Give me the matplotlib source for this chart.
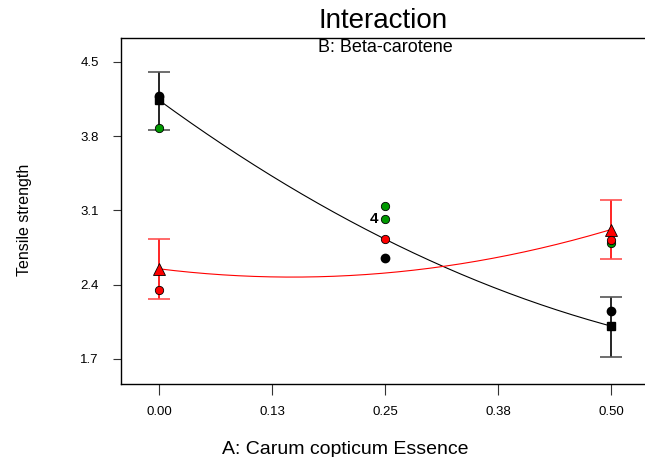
import matplotlib.pyplot as plt
import numpy as np

plt.rcParams['font.family'] = ['Liberation Sans', 'DejaVu Sans']

# factor A levels
levels = [0.0, 0.25, 0.5]
xtick_vals = [0.0, 0.125, 0.25, 0.375, 0.5]
xtick_labels = ['0.00', '0.13', '0.25', '0.38', '0.50']
ytick_vals = [1.7, 2.4, 3.1, 3.8, 4.5]

# predicted means (model fit) for the two B levels
black_fit = [4.14, 2.83, 2.01]
red_fit = [2.55, 2.51, 2.92]

# LSD bars at the end levels
bar_x = [0.0, 0.5]
black_low = [3.86, 1.72]
black_high = [4.41, 2.28]
red_low = [2.27, 2.64]
red_high = [2.83, 3.20]

# design points
black_x = [0.0, 0.25, 0.5]
black_y = [4.18, 2.65, 2.15]
green_x = [0.0, 0.25, 0.25, 0.5]
green_y = [3.88, 3.14, 3.02, 2.79]
red_x = [0.0, 0.25, 0.5]
red_y = [2.35, 2.83, 2.82]

fig = plt.figure(figsize=(6.45, 4.57), dpi=100)
ax = fig.add_axes([121/645, 1-384/457, 1-121/645, (384-38)/457])

# quadratic curves through the fitted means
xs = np.linspace(0, 0.5, 200)
for fit, col in [(black_fit, 'black'), (red_fit, 'red')]:
    coef = np.polyfit(levels, fit, 2)
    ax.plot(xs, np.polyval(coef, xs), color=col, lw=0.8, zorder=2)

# error bars
for low, high, fit, col, capcol in [(black_low, black_high, black_fit, 'black', '#555555'),
                                     (red_low, red_high, red_fit, 'red', '#ff5050')]:
    for i, x in enumerate(bar_x):
        ax.vlines(x, low[i], high[i], color=col, lw=1.2, zorder=2)
        ax.hlines([low[i], high[i]], x - 0.012, x + 0.012, color=capcol, lw=1.2, zorder=2)

# mean markers at ends
ax.plot(bar_x, [black_fit[0], black_fit[2]], 's', color='black', ms=6, zorder=4)
ax.plot(bar_x, [red_fit[0], red_fit[2]], '^', color='red', mec='black', mew=0.6, ms=8, zorder=4)

ax.plot(black_x, black_y, 'o', color='black', ms=6, zorder=5)
ax.plot(green_x, green_y, 'o', color='#009900', mec='black', mew=0.6, ms=6, zorder=5)
ax.plot(red_x, red_y, 'o', color='red', mec='black', mew=0.6, ms=6, zorder=5)
ax.text(0.243, 3.02, '4', ha='right', va='center', fontsize=11, fontweight='bold')

ax.set_xlim(-0.042, 0.5376)
ax.set_ylim(1.464, 4.726)
ax.set_xticks(xtick_vals)
ax.set_xticklabels(xtick_labels, fontsize=9.5)
ax.set_yticks(ytick_vals)
ax.set_yticklabels([f'{v:.1f}' for v in ytick_vals], fontsize=9.5)
ax.tick_params(axis='x', length=8, pad=8, color='#333333')
ax.tick_params(axis='y', length=6, pad=10, color='#333333')
ax.spines['right'].set_visible(False)
for s in ['left', 'top', 'bottom']:
    ax.spines[s].set_linewidth(1.0)

fig.text(383/645, 1-21/457, 'Interaction', ha='center', va='center', fontsize=20)
fig.text(385/645, 1-47/457, 'B: Beta-carotene', ha='center', va='center', fontsize=13)
fig.text(345/645, 1-450/457, 'A: Carum copticum Essence', ha='center', va='center', fontsize=14)
fig.text(25/645, 1-220/457, 'Tensile strength', ha='center', va='center', rotation=90,
         fontsize=11.5, family=['Liberation Sans Narrow', 'Liberation Sans'])

fig.savefig('out.png', dpi=100)
